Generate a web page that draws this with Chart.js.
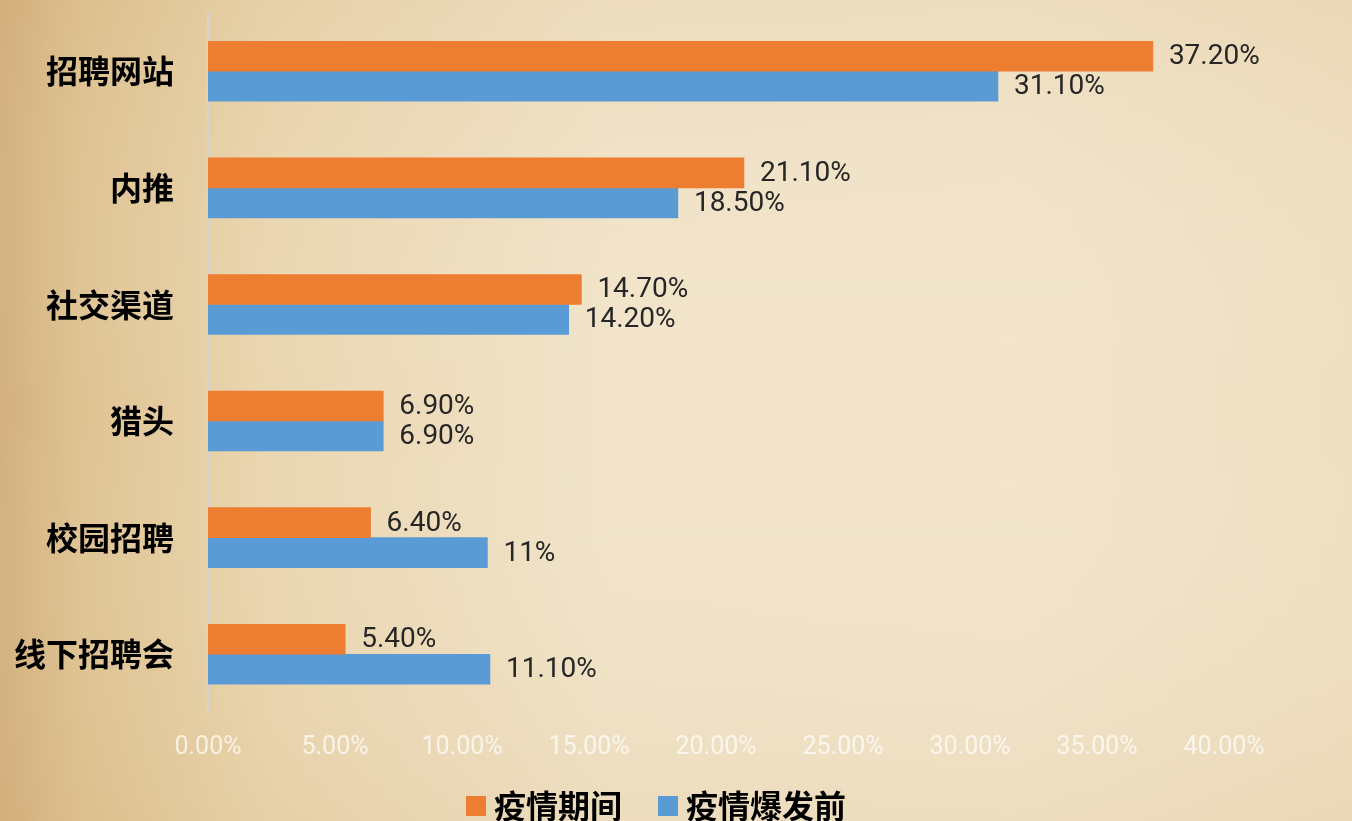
<!DOCTYPE html>
<html><head><meta charset="utf-8">
<script src="https://cdn.jsdelivr.net/npm/chart.js@4/dist/chart.umd.min.js"></script>
<style>html,body{margin:0;padding:0;overflow:hidden}#wrap{width:1352px;height:821px}</style>
</head><body><div id="wrap"><canvas id="c" width="1352" height="821"></canvas></div>
<script>
const categories = ["招聘网站","内推","社交渠道","猎头","校园招聘","线下招聘会"];
const duringValues = [37.2, 21.1, 14.7, 6.9, 6.4, 5.4];
const beforeValues = [31.1, 18.5, 14.2, 6.9, 11, 11.1];
const duringLabels = ["37.20%","21.10%","14.70%","6.90%","6.40%","5.40%"];
const beforeLabels = ["31.10%","18.50%","14.20%","6.90%","11%","11.10%"];
const seriesNames = ["疫情期间","疫情爆发前"];
const xTickLabels = ["0.00%","5.00%","10.00%","15.00%","20.00%","25.00%","30.00%","35.00%","40.00%"];

const bgPlugin = {
  id:'bg',
  beforeDraw(chart){
    const ctx = chart.ctx, w = chart.width, h = chart.height;
    ctx.save();
    const g = ctx.createLinearGradient(0,0,w,0);
    g.addColorStop(0,'#d3b07e');
    g.addColorStop(0.06,'#dfc392');
    g.addColorStop(0.2,'#ead6b0');
    g.addColorStop(0.45,'#f1e4c9');
    g.addColorStop(0.75,'#f2e5cb');
    g.addColorStop(1,'#efdfc1');
    ctx.fillStyle = g; ctx.fillRect(0,0,w,h);
    const v = ctx.createLinearGradient(0,0,0,h);
    v.addColorStop(0,'rgba(205,165,105,0.12)');
    v.addColorStop(0.5,'rgba(255,255,255,0.0)');
    v.addColorStop(1,'rgba(205,165,105,0.12)');
    ctx.fillStyle = v; ctx.fillRect(0,0,w,h);
    ctx.restore();
  }
};
const labelPlugin = {
  id:'vlabels',
  afterDatasetsDraw(chart){
    const ctx = chart.ctx;
    const lbls = [duringLabels, beforeLabels];
    ctx.save();
    ctx.font = '28px Roboto, "Liberation Sans", sans-serif';
    ctx.fillStyle = '#262626';
    ctx.textAlign = 'left'; ctx.textBaseline = 'middle';
    chart.data.datasets.forEach((ds,i)=>{
      chart.getDatasetMeta(i).data.forEach((el,j)=>{
        ctx.fillText(lbls[i][j], el.x + 16, el.y + 1);
      });
    });
    ctx.restore();
  }
};
const legendPlugin = {
  id:'customLegend',
  afterDraw(chart){
    const ctx = chart.ctx;
    ctx.save();
    ctx.font = 'bold 32px "Noto Sans CJK SC", sans-serif';
    ctx.textBaseline = 'middle'; ctx.textAlign = 'left';
    let x = 466; const cy = 806;
    chart.data.datasets.forEach(ds=>{
      ctx.fillStyle = ds.backgroundColor;
      ctx.fillRect(x, cy - 10, 20, 20);
      x += 28;
      ctx.fillStyle = '#000';
      ctx.fillText(ds.label, x, cy);
      x += ctx.measureText(ds.label).width + 36;
    });
    ctx.restore();
  }
};

new Chart(document.getElementById('c'), {
  type:'bar',
  data:{
    labels: categories,
    datasets:[
      {label: seriesNames[0], data: duringValues, backgroundColor:'#ed7d31', barThickness:30},
      {label: seriesNames[1], data: beforeValues, backgroundColor:'#5b9bd5', barThickness:30}
    ]
  },
  options:{
    indexAxis:'y',
    responsive:false,
    animation:false,
    layout:{padding:{left:12,right:128,top:13,bottom:39}},
    plugins:{ tooltip:{enabled:false}, legend:{display:false} },
    scales:{
      x:{
        min:0, max:40,
        ticks:{stepSize:5, color:'rgba(255,255,255,0.72)', padding:21, maxRotation:0,
          font:{family:'Roboto, sans-serif', size:25, lineHeight:1.1},
          callback:(v,i)=>xTickLabels[i]},
        grid:{display:false, drawTicks:false},
        border:{display:false}
      },
      y:{
        ticks:{color:'#000', padding:2,
          font:{family:'"Noto Sans CJK SC", sans-serif', size:32, weight:'bold', lineHeight:0.6}},
        grid:{display:true, drawOnChartArea:false, drawTicks:true, tickLength:32, color:'rgba(0,0,0,0)'},
        border:{display:true, color:'#d4d4d4', width:2}
      }
    }
  },
  plugins:[bgPlugin, labelPlugin, legendPlugin]
});
</script></body></html>
